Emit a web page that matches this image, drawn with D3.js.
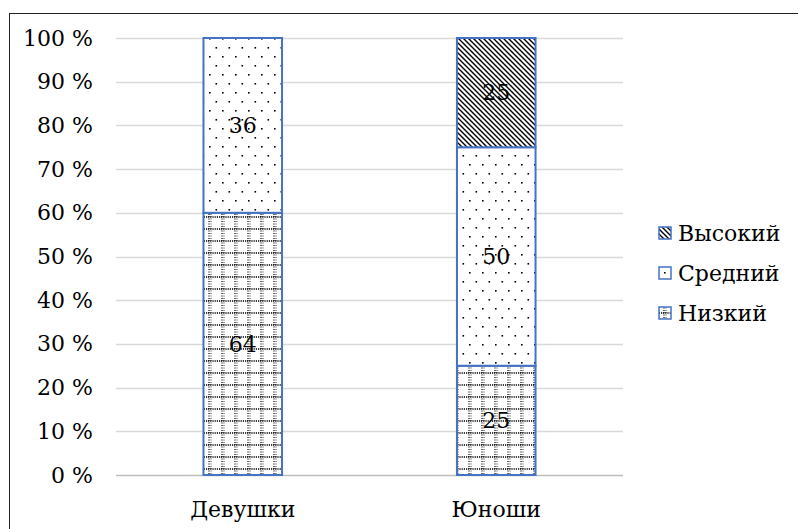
<!DOCTYPE html>
<html><head><meta charset="utf-8">
<script src="https://cdn.jsdelivr.net/npm/d3@7"></script>
</head><body style="margin:0;background:#fff">
<svg id="c" width="798" height="529"></svg>
<script>
const categories = ["Девушки", "Юноши"];
const seriesNames = ["Низкий", "Средний", "Высокий"];
// bar heights (percent) as drawn
const nizkiy = [60, 25];
const sredniy = [40, 50];
const vysokiy = [0, 25];
// data labels as printed on the chart
const nizkiyLabels = ["64", "25"];
const sredniyLabels = ["36", "50"];
const vysokiyLabels = ["", "25"];
const tickValues = [0,10,20,30,40,50,60,70,80,90,100];

const FS = 22;
const FONT = "'DejaVu Serif'";
const svg = d3.select("#c");
const W = 798, H = 529;
svg.append("rect").attr("x",9.5).attr("y",13.5).attr("width",W).attr("height",H).attr("fill","#fff").attr("stroke","#222").attr("stroke-width",1);

const defs = svg.append("defs");
const pN = defs.append("pattern").attr("id","pN").attr("patternUnits","userSpaceOnUse").attr("width",13).attr("height",12);
pN.append("rect").attr("width",13).attr("height",12).attr("fill","#fff");
pN.append("line").attr("x1",0).attr("x2",13).attr("y1",1).attr("y2",1).attr("stroke","#000").attr("stroke-width",1.4).attr("stroke-dasharray","1.2,1");
pN.append("line").attr("x1",1).attr("x2",1).attr("y1",0).attr("y2",12).attr("stroke","#000").attr("stroke-width",1.2).attr("stroke-dasharray","1,1.5");
pN.append("line").attr("x1",3).attr("x2",3).attr("y1",0).attr("y2",12).attr("stroke","#000").attr("stroke-width",0.8).attr("stroke-dasharray","1,1.5");
const pS = defs.append("pattern").attr("id","pS").attr("patternUnits","userSpaceOnUse").attr("width",13).attr("height",18);
pS.append("rect").attr("width",13).attr("height",18).attr("fill","#fff");
pS.append("rect").attr("x",1).attr("y",2).attr("width",1.6).attr("height",1.6).attr("fill","#000");
pS.append("rect").attr("x",7.5).attr("y",11).attr("width",1.6).attr("height",1.6).attr("fill","#000");
const pV = defs.append("pattern").attr("id","pV").attr("patternUnits","userSpaceOnUse").attr("width",5).attr("height",5);
pV.append("rect").attr("width",5).attr("height",5).attr("fill","#fff");
pV.append("path").attr("d","M-1,-1 L6,6 M-1,4 L1,6 M4,-1 L6,1").attr("stroke","#000").attr("stroke-width",1.4);
const fills = ["url(#pN)","url(#pS)","url(#pV)"];

const x0 = 116, x1 = 623, yTop = 38, yBot = 475;
const x = d3.scaleBand().domain(categories).range([x0,x1]).paddingInner(0.69).paddingOuter(0.345);
const y = d3.scaleLinear().domain([0,100]).range([yBot,yTop]);

svg.append("g").selectAll("line").data(tickValues).join("line")
  .attr("x1",x0).attr("x2",x1).attr("y1",d=>Math.round(y(d))+0.5).attr("y2",d=>Math.round(y(d))+0.5)
  .attr("stroke",d=>d===0?"#bfbfbf":"#d9d9d9").attr("stroke-width",1.3);

const yAxis = d3.axisLeft(y).tickValues(tickValues).tickFormat(d=>d+" %").tickSize(0).tickPadding(23);
const ga = svg.append("g").attr("transform",`translate(${x0},0)`).call(yAxis);
ga.attr("font-family",null).attr("font-size",null);
ga.select(".domain").remove();
ga.selectAll("text").style("font-family",FONT).attr("font-size",FS).attr("fill","#000");

const gx = svg.append("g").attr("transform",`translate(0,${yBot})`).call(d3.axisBottom(x).tickSize(0).tickPadding(26));
gx.attr("font-family",null).attr("font-size",null);
gx.select(".domain").remove();
gx.selectAll("text").style("font-family",FONT).attr("font-size",FS).attr("fill","#000");

const data = categories.map((c,i)=>({cat:c, "Низкий":nizkiy[i], "Средний":sredniy[i], "Высокий":vysokiy[i]}));
const labels = {"Низкий":nizkiyLabels, "Средний":sredniyLabels, "Высокий":vysokiyLabels};
const stack = d3.stack().keys(seriesNames)(data);

stack.forEach((s,si)=>{
  const g = svg.append("g");
  s.forEach((d,i)=>{
    if (d[1]-d[0] <= 0) return;
    g.append("rect").attr("x",x(categories[i])).attr("width",x.bandwidth())
      .attr("y",y(d[1])).attr("height",y(d[0])-y(d[1]))
      .attr("fill",fills[si]).attr("stroke","#4472C4").attr("stroke-width",2);
    g.append("text").attr("x",x(categories[i])+x.bandwidth()/2).attr("y",(y(d[0])+y(d[1]))/2)
      .attr("text-anchor","middle").attr("dy","0.35em")
      .style("font-family",FONT).attr("font-size",FS).attr("fill","#000").text(labels[s.key][i]);
  });
});

const legendItems = [2,1,0];
const lg = svg.append("g");
legendItems.forEach((si,k)=>{
  const ly = 233 + k*40;
  lg.append("rect").attr("x",659).attr("y",ly-6).attr("width",12).attr("height",12)
    .attr("fill",fills[si]).attr("stroke","#4472C4").attr("stroke-width",1.5);
  lg.append("text").attr("x",678).attr("y",ly).attr("dy","0.35em")
    .style("font-family",FONT).attr("font-size",FS).attr("fill","#000").text(seriesNames[si]);
});
</script>
</body></html>
